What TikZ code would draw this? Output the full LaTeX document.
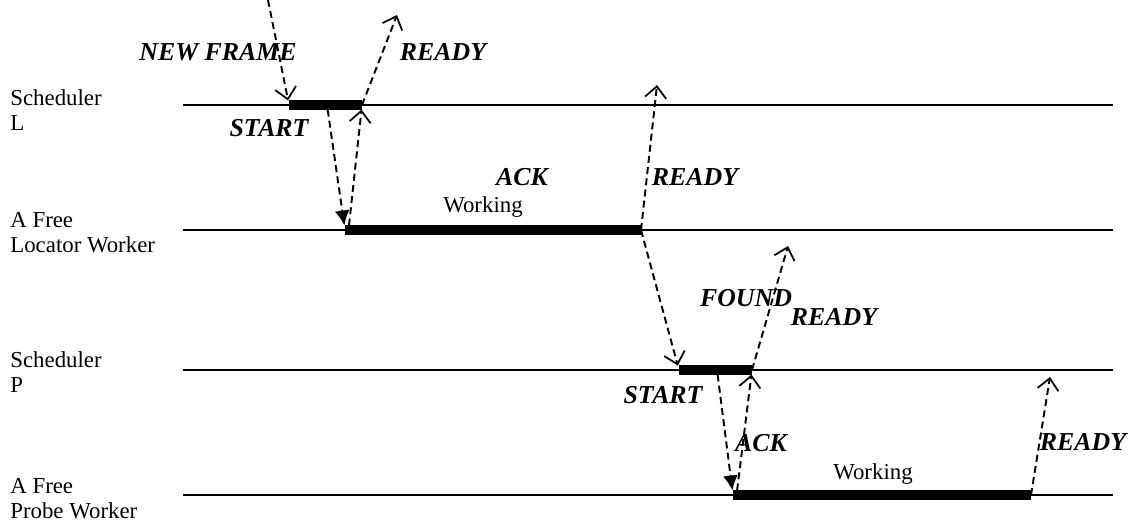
\documentclass[tikz,border=0pt]{standalone}
\usepackage{fontspec}
\setmainfont{Liberation Serif}
\usetikzlibrary{arrows.meta}

\tikzset{
    lane/.style = {line width=1pt},
    busy/.style = {line width=5.7pt},
    msg/.style = {dash pattern=on 4pt off 2.4pt, line width=1.1pt,
        -{Straight Barb[length=6.5pt, width=12pt, line width=1pt]}},
    call/.style = {dash pattern=on 4pt off 2.4pt, line width=1.1pt,
        -{Latex[length=8.5pt, width=8.5pt]}},
    sig/.style = {inner sep=0pt, font=\fontsize{14.7}{16}\selectfont\bfseries\itshape},
    who/.style = {inner sep=0pt, anchor=west, align=left, font=\fontsize{13}{14.2}\selectfont},
    job/.style = {inner sep=0pt, font=\fontsize{13}{14}\selectfont}
}

\begin{document}
\begin{tikzpicture}[x=0.02cm, y=-0.02cm]
    \useasboundingbox (0,0) rectangle (1142,529);

    % the four time lines
    \foreach \y/\n in {105/schL, 230/locW, 370/schP, 495/prbW}
        \draw [lane] (183,\y) -- (1113,\y);

    \node [who] (schL) at (10,110) {Scheduler\\L};
    \node [who] (locW) at (10,233) {A Free\\Locator Worker};
    \node [who] (schP) at (10,372) {Scheduler\\P};
    \node [who] (prbW) at (10,499) {A Free\\Probe Worker};

    % busy periods
    \coordinate (schL-s) at (289,105);
    \coordinate (schL-m) at (327,105);
    \coordinate (schL-e) at (362,105);
    \coordinate (locW-s) at (345,230);
    \coordinate (locW-e) at (641,230);
    \coordinate (schP-s) at (679,370);
    \coordinate (schP-m) at (717,370);
    \coordinate (schP-e) at (752,370);
    \coordinate (prbW-s) at (733,495);
    \coordinate (prbW-e) at (1031,495);
    \draw [busy] (schL-s) -- (schL-e);
    \draw [busy] (locW-s) -- (locW-e);
    \draw [busy] (schP-s) -- (schP-e);
    \draw [busy] (prbW-s) -- (prbW-e);

    % loose ends of the messages
    \coordinate (frame-in) at (268,0);
    \coordinate (ready-L) at (397,15);
    \coordinate (ready-A) at (657,85);
    \coordinate (ready-P) at (788,246);
    \coordinate (ready-B) at (1050,377);

    % messages
    \draw [msg, shorten >=2.6pt] (frame-in) -- (schL-s);
    \draw [msg] (schL-e) -- (ready-L);
    \draw [call, shorten <=2.6pt, shorten >=2.6pt] (schL-m) -- (locW-s);
    \draw [msg, shorten <=2.6pt, shorten >=2.6pt] ([xshift=2pt]locW-s) -- (schL-e);
    \draw [msg] (locW-e) -- (ready-A);
    \draw [msg, shorten >=2.6pt] (locW-e) -- (schP-s);
    \draw [msg] (schP-e) -- (ready-P);
    \draw [call, shorten <=2.6pt, shorten >=2.6pt] (schP-m) -- (prbW-s);
    \draw [msg, shorten <=2.6pt, shorten >=2.6pt] ([xshift=2pt]prbW-s) -- (schP-e);
    \draw [msg] (prbW-e) -- (ready-B);

    % message names
    \node [sig] (nf)  at (218,52)  {NEW FRAME};
    \node [sig] (rd1) at (443,52)  {READY};
    \node [sig] (st1) at (269,128) {START};
    \node [sig] (ak1) at (522,177) {ACK};
    \node [sig] (rd2) at (695,177) {READY};
    \node [sig] (fd)  at (746,298) {FOUND};
    \node [sig] (rd3) at (834,317) {READY};
    \node [sig] (st2) at (663,395) {START};
    \node [sig] (ak2) at (761,443) {ACK};
    \node [sig] (rd4) at (1083,442) {READY};

    \node [job] (wk1) at (483,207) {Working};
    \node [job] (wk2) at (873,474) {Working};
\end{tikzpicture}
\end{document}
